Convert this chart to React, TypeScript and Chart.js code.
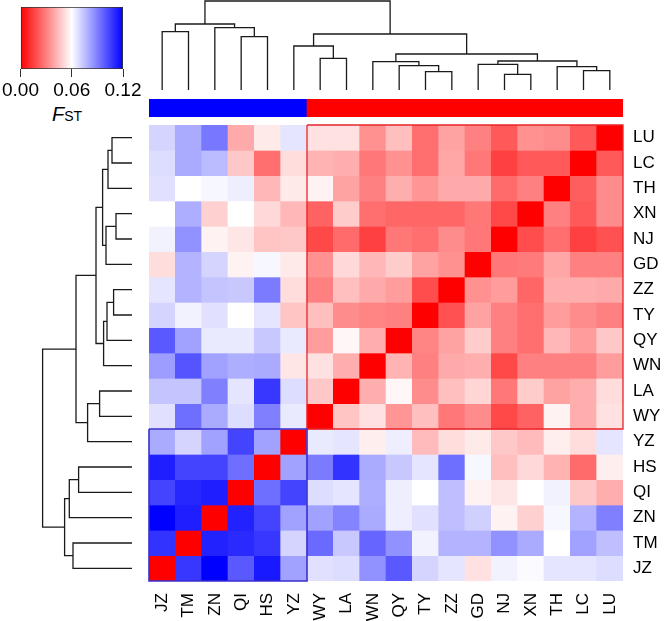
import React, { useEffect, useRef } from 'react';
import { Chart, registerables } from 'chart.js';

Chart.register(...registerables);

const FONT = "'Liberation Sans', Arial, Helvetica, sans-serif";

// ---- labels ----
const colLabels = ['JZ', 'TM', 'ZN', 'QI', 'HS', 'YZ', 'WY', 'LA', 'WN', 'QY', 'TY', 'ZZ', 'GD', 'NJ', 'XN', 'TH', 'LC', 'LU'];
const rowLabels = ['LU', 'LC', 'TH', 'XN', 'NJ', 'GD', 'ZZ', 'TY', 'QY', 'WN', 'LA', 'WY', 'YZ', 'HS', 'QI', 'ZN', 'TM', 'JZ'];

// ---- pairwise FST, one row per population (columns in colLabels order) ----
const rowLU = [0.070, 0.080, 0.092, 0.040, 0.055, 0.066, 0.053, 0.053, 0.034, 0.045, 0.026, 0.038, 0.030, 0.021, 0.034, 0.033, 0.021, 0];
const rowLC = [0.068, 0.080, 0.076, 0.047, 0.026, 0.052, 0.042, 0.041, 0.028, 0.034, 0.026, 0.039, 0.028, 0.015, 0.021, 0.021, 0, 0.021];
const rowTH = [0.067, 0.060, 0.062, 0.064, 0.043, 0.055, 0.057, 0.038, 0.030, 0.041, 0.035, 0.040, 0.040, 0.025, 0.030, 0, 0.022, 0.033];
const rowXN = [0.060, 0.079, 0.049, 0.060, 0.051, 0.043, 0.023, 0.048, 0.026, 0.024, 0.024, 0.024, 0.028, 0.017, 0, 0.030, 0.021, 0.033];
const rowNJ = [0.063, 0.086, 0.057, 0.054, 0.046, 0.047, 0.017, 0.025, 0.015, 0.028, 0.026, 0.033, 0.028, 0, 0.018, 0.026, 0.015, 0.019];
const rowGD = [0.052, 0.078, 0.070, 0.057, 0.062, 0.055, 0.034, 0.051, 0.043, 0.048, 0.038, 0.034, 0, 0.028, 0.029, 0.039, 0.030, 0.030];
const rowZZ = [0.066, 0.078, 0.074, 0.073, 0.091, 0.052, 0.030, 0.045, 0.040, 0.037, 0.018, 0, 0.034, 0.037, 0.024, 0.041, 0.041, 0.040];
const rowTY = [0.070, 0.063, 0.067, 0.060, 0.066, 0.046, 0.045, 0.033, 0.031, 0.030, 0, 0.019, 0.038, 0.030, 0.026, 0.037, 0.033, 0.030];
const rowQY = [0.099, 0.082, 0.065, 0.065, 0.073, 0.065, 0.037, 0.058, 0.041, 0, 0.031, 0.038, 0.048, 0.030, 0.026, 0.043, 0.037, 0.047];
const rowWN = [0.083, 0.100, 0.082, 0.079, 0.080, 0.054, 0.053, 0.041, 0, 0.042, 0.030, 0.040, 0.041, 0.017, 0.030, 0.030, 0.030, 0.037];
const rowLA = [0.074, 0.074, 0.090, 0.066, 0.107, 0.068, 0.047, 0, 0.041, 0.058, 0.033, 0.045, 0.050, 0.028, 0.048, 0.038, 0.041, 0.052];
const rowWY = [0.067, 0.094, 0.080, 0.068, 0.090, 0.065, 0, 0.046, 0.053, 0.035, 0.045, 0.028, 0.033, 0.017, 0.023, 0.057, 0.041, 0.053];
const rowYZ = [0.080, 0.070, 0.082, 0.104, 0.082, 0, 0.065, 0.066, 0.056, 0.064, 0.044, 0.052, 0.055, 0.047, 0.044, 0.056, 0.052, 0.066];
const rowHS = [0.113, 0.104, 0.104, 0.094, 0, 0.082, 0.091, 0.108, 0.080, 0.073, 0.066, 0.094, 0.062, 0.045, 0.051, 0.042, 0.025, 0.056];
const rowQI = [0.104, 0.111, 0.113, 0, 0.094, 0.104, 0.068, 0.066, 0.079, 0.064, 0.060, 0.075, 0.057, 0.054, 0.060, 0.063, 0.047, 0.041];
const rowZN = [0.120, 0.113, 0, 0.112, 0.104, 0.082, 0.082, 0.089, 0.080, 0.064, 0.067, 0.075, 0.071, 0.057, 0.049, 0.062, 0.078, 0.090];
const rowTM = [0.108, 0, 0.112, 0.110, 0.107, 0.070, 0.095, 0.073, 0.096, 0.086, 0.063, 0.078, 0.078, 0.086, 0.080, 0.060, 0.082, 0.075];
const rowJZ = [0, 0.107, 0.120, 0.099, 0.114, 0.082, 0.067, 0.068, 0.086, 0.099, 0.070, 0.066, 0.053, 0.063, 0.061, 0.066, 0.066, 0.068];

const fstRows = [rowLU, rowLC, rowTH, rowXN, rowNJ, rowGD, rowZZ, rowTY, rowQY, rowWN, rowLA, rowWY, rowYZ, rowHS, rowQI, rowZN, rowTM, rowJZ];

// ---- column groups (top colour bar) ----
const colGroups = ['B', 'B', 'B', 'B', 'B', 'B', 'R', 'R', 'R', 'R', 'R', 'R', 'R', 'R', 'R', 'R', 'R', 'R'];
const groupColors: Record<string, string> = { B: '#0000ff', R: '#ff0000' };

// ---- colour key ----
const keyTicks = [0, 0.06, 0.12];
const keyColors = ['#ff0000', '#ffffff', '#0000ff'];

// ---- dendrograms (R-style merges: negative = leaf, positive = earlier merge) ----
const topPairs = [[-1, -2], [-4, -5], [-3, 2], [1, 3], [-7, -8], [-6, 5], [-11, -12], [-10, 7], [-9, 8], [-14, -15], [-13, 10], [-17, -18], [-16, 12], [11, 13], [9, 14], [6, 15], [4, 16]];
const topHeights = [0.0583, 0.0533, 0.0623, 0.066, 0.0317, 0.044, 0.0183, 0.0243, 0.0283, 0.0157, 0.0257, 0.0193, 0.0233, 0.029, 0.036, 0.056, 0.089];
const leftPairs = [[-1, -2], [1, -3], [-4, -5], [3, -6], [2, 4], [-7, -8], [6, -9], [7, -10], [5, 8], [-11, -12], [10, -13], [9, 11], [-14, -15], [13, -16], [-17, -18], [14, 15], [12, 16]];
const leftHeights = [0.020, 0.024, 0.016, 0.026, 0.0294, 0.0184, 0.025, 0.0284, 0.036, 0.0324, 0.0444, 0.056, 0.0534, 0.0627, 0.059, 0.0674, 0.0894];

// ---- highlighted blocks ----
const redBlock = { colFrom: 6, colTo: 18, rowFrom: 0, rowTo: 12 };
const blueBlock = { colFrom: 0, colTo: 6, rowFrom: 12, rowTo: 18 };

function fstColor(v: number): string {
  const mid = keyTicks[1];
  const max = keyTicks[2];
  if (v <= mid) {
    const g = Math.round(255 * Math.max(0, v) / mid);
    return `rgb(255,${g},${g})`;
  }
  const b = Math.round(255 * Math.max(0, max - v) / (max - mid));
  return `rgb(${b},${b},255)`;
}

function dendroPaths(pairs: number[][], heights: number[]) {
  const pos: number[] = [];
  const hgt: number[] = [];
  const node = (id: number) => (id < 0 ? { p: -id - 1 + 0.5, h: 0 } : { p: pos[id - 1], h: hgt[id - 1] });
  return pairs.map(([a, b], k) => {
    const A = node(a);
    const B = node(b);
    const h = heights[k];
    pos[k] = (A.p + B.p) / 2;
    hgt[k] = h;
    return [
      { p: A.p, h: A.h },
      { p: A.p, h },
      { p: B.p, h },
      { p: B.p, h: B.h },
    ];
  });
}

const noPlugins = { legend: { display: false }, tooltip: { enabled: false } };
const LINE = '#1a1a1a';

function outline(b: typeof redBlock, color: string, width: number, order: number) {
  return {
    type: 'line',
    xAxisID: 'xl',
    yAxisID: 'y',
    order,
    data: [
      { x: b.colFrom, y: b.rowFrom },
      { x: b.colTo, y: b.rowFrom },
      { x: b.colTo, y: b.rowTo },
      { x: b.colFrom, y: b.rowTo },
      { x: b.colFrom, y: b.rowFrom },
    ],
    borderColor: color,
    borderWidth: width,
    borderJoinStyle: 'miter',
    pointRadius: 0,
    fill: false,
    tension: 0,
    clip: false,
  };
}

const heatConfig = (): any => ({
  type: 'bar',
  data: {
    labels: colLabels,
    datasets: [
      ...fstRows.map((vals, r) => ({
        type: 'bar',
        label: rowLabels[r],
        data: vals.map(() => [r, r + 1]),
        backgroundColor: vals.map(fstColor),
        borderWidth: 0,
        grouped: false,
        barPercentage: 1,
        categoryPercentage: 1,
        xAxisID: 'x',
        yAxisID: 'y',
        order: 1,
      })),
      outline(redBlock, '#e8262a', 1.3, -1),
      outline(blueBlock, '#3a2fd0', 1.6, -2),
    ],
  },
  options: {
    responsive: false,
    animation: false,
    events: [],
    layout: { padding: { left: 149, top: 125, right: 0, bottom: 0 } },
    plugins: noPlugins,
    scales: {
      x: {
        type: 'category',
        position: 'bottom',
        offset: true,
        grid: { display: false, drawTicks: false, offset: true },
        border: { display: false },
        ticks: { font: { family: FONT, size: 17 }, color: '#000', minRotation: 90, maxRotation: 90, autoSkip: false, padding: 12 },
        afterFit: (s: any) => { s.height = 40; },
      },
      xl: { type: 'linear', axis: 'x', display: false, min: 0, max: 18, offset: false, grid: { offset: false } },
      y: { type: 'linear', display: false, min: 0, max: 18, reverse: true, offset: false },
      yLab: {
        type: 'category',
        axis: 'y',
        position: 'right',
        labels: rowLabels,
        offset: true,
        grid: { display: false, drawTicks: false },
        border: { display: false },
        ticks: { font: { family: FONT, size: 17 }, color: '#000', padding: 10, autoSkip: false },
        afterFit: (s: any) => { s.width = 43; },
      },
    },
  },
});

const topDendroConfig = (): any => ({
  type: 'scatter',
  data: {
    datasets: dendroPaths(topPairs, topHeights).map((path) => ({
      data: path.map((pt) => ({ x: pt.p, y: pt.h })),
      showLine: true,
      borderColor: LINE,
      borderWidth: 1.3,
      pointRadius: 0,
      tension: 0,
      clip: false,
    })),
  },
  options: {
    responsive: false,
    animation: false,
    events: [],
    layout: { padding: { bottom: 1 } },
    plugins: noPlugins,
    scales: {
      x: { type: 'linear', display: false, min: 0, max: 18 },
      y: { type: 'linear', display: false, min: 0, max: 0.09 },
    },
  },
});

const leftDendroConfig = (): any => ({
  type: 'scatter',
  data: {
    datasets: dendroPaths(leftPairs, leftHeights).map((path) => ({
      data: path.map((pt) => ({ x: pt.h, y: pt.p })),
      showLine: true,
      borderColor: LINE,
      borderWidth: 1.3,
      pointRadius: 0,
      tension: 0,
      clip: false,
    })),
  },
  options: {
    responsive: false,
    animation: false,
    events: [],
    plugins: noPlugins,
    scales: {
      x: { type: 'linear', display: false, min: 0, max: 0.132, reverse: true },
      y: { type: 'linear', display: false, min: 0, max: 18, reverse: true },
    },
  },
});

const groupBarConfig = (): any => ({
  type: 'bar',
  data: {
    labels: colLabels,
    datasets: [{
      data: colGroups.map(() => 1),
      backgroundColor: colGroups.map((g) => groupColors[g]),
      borderWidth: 0,
      barPercentage: 1,
      categoryPercentage: 1,
    }],
  },
  options: {
    responsive: false,
    animation: false,
    events: [],
    plugins: noPlugins,
    scales: {
      x: { display: false },
      y: { display: false, min: 0, max: 1 },
    },
  },
});

const keyConfig = (): any => ({
  type: 'bar',
  data: {
    labels: ['FST'],
    datasets: [{
      data: [[keyTicks[0], keyTicks[keyTicks.length - 1]]],
      backgroundColor: (ctx: any) => {
        const chart = ctx.chart;
        if (!chart.chartArea) return keyColors[0];
        const xs = chart.scales.x;
        const x0 = xs.getPixelForValue(keyTicks[0]);
        const x1 = xs.getPixelForValue(keyTicks[keyTicks.length - 1]);
        const g = chart.ctx.createLinearGradient(x0, 0, x1, 0);
        keyColors.forEach((c, i) => g.addColorStop(i / (keyColors.length - 1), c));
        return g;
      },
      borderColor: '#333',
      borderWidth: 1.2,
      borderSkipped: false,
      barPercentage: 1,
      categoryPercentage: 1,
    }],
  },
  options: {
    indexAxis: 'y',
    responsive: false,
    animation: false,
    events: [],
    layout: { padding: { left: 20, top: 7, right: 27, bottom: 0 } },
    plugins: noPlugins,
    scales: {
      x: {
        type: 'linear',
        min: keyTicks[0],
        max: keyTicks[keyTicks.length - 1],
        position: 'bottom',
        afterBuildTicks: (s: any) => { s.ticks = keyTicks.map((v) => ({ value: v })); },
        ticks: {
          callback: (v: any) => Number(v).toFixed(2),
          font: { family: FONT, size: 19 },
          color: '#000',
          padding: 2,
          maxRotation: 0,
          autoSkip: false,
        },
        grid: { display: true, drawOnChartArea: false, drawTicks: true, tickLength: 8, color: '#333', lineWidth: 1 },
        border: { display: false },
        afterFit: (s: any) => { s.height = 31; },
      },
      y: { type: 'category', display: false },
    },
  },
});

function ChartBox({ left, top, width, height, make }: { left: number; top: number; width: number; height: number; make: () => any }) {
  const ref = useRef<HTMLCanvasElement>(null);
  useEffect(() => {
    const chart = new Chart(ref.current as HTMLCanvasElement, make());
    return () => chart.destroy();
  }, []);
  return (
    <canvas
      ref={ref}
      width={width}
      height={height}
      style={{ position: 'absolute', left, top, width, height }}
    />
  );
}

export default function App() {
  return (
    <div style={{ position: 'absolute', left: 0, top: 0, width: 666, height: 621, background: '#fff', overflow: 'hidden' }}>
      <ChartBox left={0} top={0} width={150} height={100} make={keyConfig} />
      <div style={{ position: 'absolute', left: 52, top: 104, fontFamily: FONT, fontSize: 20, lineHeight: 1, whiteSpace: 'nowrap', color: '#000' }}>
        <span style={{ fontStyle: 'italic', fontSize: 20 }}>F</span>
        <span style={{ fontSize: 14 }}>ST</span>
      </div>
      <ChartBox left={149} top={0} width={474} height={91} make={topDendroConfig} />
      <ChartBox left={149} top={99} width={474} height={18} make={groupBarConfig} />
      <ChartBox left={0} top={125} width={132} height={456} make={leftDendroConfig} />
      <ChartBox left={0} top={0} width={666} height={621} make={heatConfig} />
    </div>
  );
}
